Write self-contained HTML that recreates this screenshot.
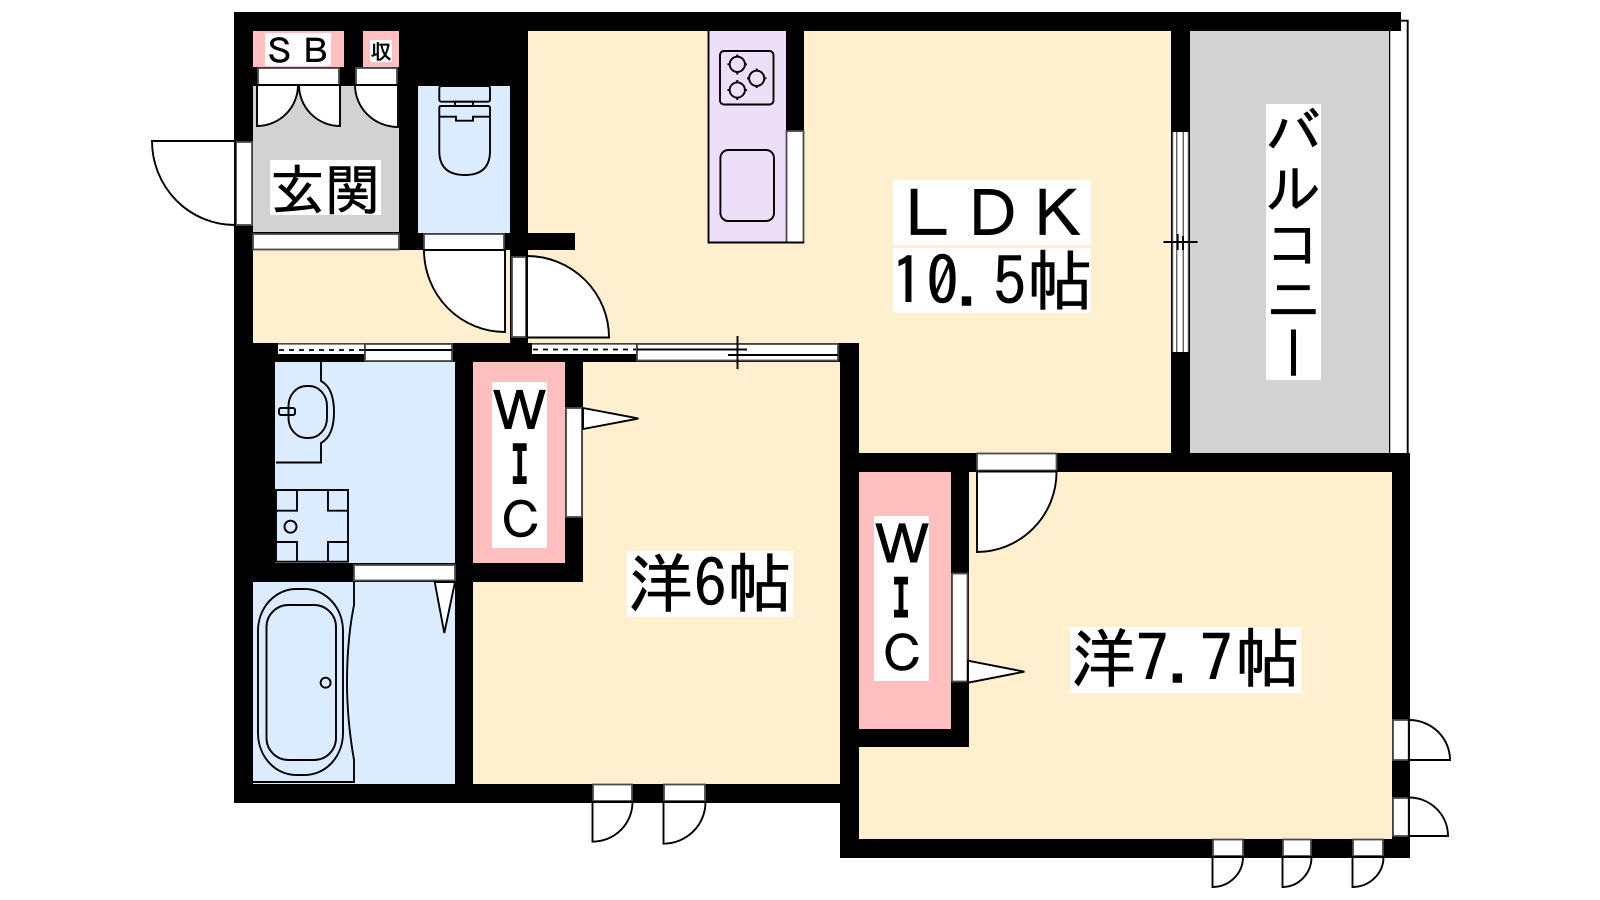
<!DOCTYPE html>
<html lang="ja"><head><meta charset="utf-8"><title>間取り図</title>
<style>
html,body{margin:0;padding:0;background:#fff}
svg{display:block}
text{font-family:"IPAGothic","Noto Sans CJK JP","Liberation Sans",sans-serif;fill:#000;stroke:#000;stroke-width:.6}
.f{fill:#fff;stroke:#4a4a4a;stroke-width:1.8}
.l{fill:none;stroke:#000;stroke-width:1.9}
.d{fill:#fff;stroke:#000;stroke-width:1.9}
</style></head><body>
<svg width="1600" height="900" viewBox="0 0 1600 900" xmlns="http://www.w3.org/2000/svg">
<rect width="1600" height="900" fill="#fff"/>
<!-- walls -->
<polygon fill="#000" points="234,12 1401,12 1401,31 1389,31 1389,453 1410,453 1410,858 840,858 840,803 234,803"/>
<!-- balcony window -->
<path class="l" d="M1401,20.7H1407.7V453M1389.3,31V453"/>
<!-- rooms -->
<polygon fill="#fef0cf" points="528,31 1171,31 1171,453 859,453 859,343 528,343"/>
<rect x="253" y="250" width="257" height="93" fill="#fef0cf"/>
<rect x="473" y="362" width="367" height="422" fill="#fef0cf"/>
<rect x="859" y="472" width="533" height="367" fill="#fef0cf"/>
<rect x="1190" y="31" width="199" height="422" fill="#d2d2d2"/>
<rect x="253" y="86" width="146" height="146" fill="#d2d2d2"/>
<rect x="418" y="86" width="92" height="147" fill="#dbecff"/>
<rect x="275" y="362" width="180" height="201" fill="#dbecff"/>
<rect x="253" y="582" width="202" height="202" fill="#dbecff"/>
<rect x="473" y="362" width="92" height="201" fill="#ffbfbf"/>
<rect x="859" y="472" width="92" height="257" fill="#ffbfbf"/>
<rect x="253" y="31" width="91" height="36" fill="#ffbfbf"/>
<rect x="363" y="31" width="36" height="36" fill="#ffbfbf"/>
<rect x="708.5" y="31" width="77.5" height="211.5" fill="#ecdff7"/>
<!-- interior black walls -->
<rect x="504" y="233" width="71" height="17" fill="#000"/>
<rect x="510" y="250" width="18" height="7" fill="#000"/>
<rect x="786" y="31" width="18" height="100" fill="#000"/>
<rect x="565" y="362" width="18" height="220" fill="#000"/>
<rect x="455" y="563" width="128" height="19" fill="#000"/>
<rect x="951" y="472" width="18" height="275" fill="#000"/>
<rect x="859" y="729" width="110" height="18" fill="#000"/>
<rect x="1171" y="31" width="19" height="422" fill="#000"/>
<rect x="253" y="563" width="101" height="19" fill="#000"/>

<!-- storage doors -->
<rect class="f" x="258" y="68" width="81" height="17"/>
<rect class="f" x="356" y="68" width="41" height="17"/>
<path class="d" d="M257,85V126A41,41 0 0 0 298,85Z"/>
<path class="d" d="M340,85V126A41,41 0 0 1 299,85Z"/>
<path class="d" d="M398,85V127A43,42 0 0 1 355,85Z"/>
<!-- entry door -->
<rect class="f" x="236" y="142" width="16" height="83"/>
<path class="d" d="M235,141H152A83,84 0 0 0 235,225Z"/>
<!-- entry step / toilet frame -->
<rect class="f" x="253" y="234" width="146" height="15.5"/>
<rect class="f" x="424" y="234" width="80" height="16"/>
<path class="d" d="M505,250V332A81,82 0 0 1 424,250Z"/>
<rect class="f" x="512" y="257" width="14" height="80"/>
<path class="d" d="M527,256V337.5H609A82,81.5 0 0 0 527,256Z"/>
<!-- toilet -->
<rect class="l" x="439.3" y="86" width="50.7" height="15.7" rx="2"/>
<rect class="l" x="455" y="101.7" width="18" height="4.3"/>
<path class="l" d="M439.3,108Q439.3,106 441,106H488Q490,106 490,108V151Q490,175 465,175Q439.3,175 439.3,151Z"/>
<path class="l" d="M439.3,116.7H456V120.7H473V116.7H490"/>

<!-- sliding windows -->
<rect x="278" y="343.5" width="86" height="18" fill="#fff"/>
<rect x="278" y="354" width="86" height="7.5" fill="#000"/>
<path d="M279,350H364" stroke="#000" stroke-width="1.8" stroke-dasharray="5 5" fill="none"/>
<path d="M278,344H364" stroke="#666" stroke-width="1.5"/>
<rect class="f" x="365" y="344" width="87" height="17"/>
<path class="l" d="M365,350H452"/>
<rect x="532" y="344" width="104" height="17.5" fill="#fff"/>
<rect x="532" y="354" width="104" height="7.5" fill="#000"/>
<path d="M533,349.5H636" stroke="#000" stroke-width="1.8" stroke-dasharray="5 5" fill="none"/>
<path d="M532,344H636" stroke="#555" stroke-width="1.5"/>
<rect class="f" x="637" y="344" width="201" height="16.5"/>
<path class="l" d="M637,349.5H747M728,355H838M737.5,336V369"/>

<!-- wash room -->
<path class="l" d="M321,362V381Q334,388 334,412Q334,436 321,443V462.5H276"/>
<rect class="l" x="288.5" y="386" width="38.5" height="52" rx="18" ry="20"/>
<rect class="l" x="279" y="408" width="16" height="7" rx="2" fill="#dbecff"/>
<path class="l" d="M276,490H348V561.7H276ZM276,510.7H297V490M348,510.7H328V490M276,542H297V561.7M348,542H328V561.7"/>
<circle class="l" cx="290.5" cy="526.7" r="6"/>
<rect class="f" x="354" y="565" width="101" height="15.5"/>
<polygon class="d" points="434.7,582 444.3,633 455,582"/>
<!-- bath -->
<path class="l" d="M253,782H354V760Q347,720 347,682Q347,640 354,605V582"/>
<rect class="l" x="258" y="589" width="85" height="186" rx="38" ry="42"/>
<rect class="l" x="266.5" y="605" width="69.5" height="155" rx="22" ry="22"/>
<circle class="l" cx="325.6" cy="682.7" r="5"/>

<!-- WIC 1 door -->
<rect class="f" x="566" y="408" width="16" height="109"/>
<polygon class="d" points="583,408 638.5,418.5 583,429"/>
<!-- kitchen -->
<rect class="f" x="786.5" y="131" width="17" height="111.5"/>
<path class="l" d="M708.5,31V242.5H804"/>
<rect class="l" x="720" y="51" width="53.5" height="53.5" rx="4"/>
<g class="l">
<circle cx="737.3" cy="64.3" r="7.6"/><path d="M737.3,54.5V57M737.3,72V74.5M727.5,64.3H730M744.6,64.3H747" />
<circle cx="756.7" cy="78.3" r="7.6"/><path d="M756.7,68.5V71M756.7,85.5V88M747,78.3H749.5M764,78.3H766.5"/>
<circle cx="737.3" cy="90" r="7.6"/><path d="M737.3,80V83M737.3,97V100M727.5,90H730M744.6,90H747"/>
</g>
<rect class="l" x="720.4" y="150" width="53.6" height="71" rx="8"/>
<!-- balcony window -->
<rect x="1172" y="132" width="17" height="220" fill="#fff"/>
<path d="M1172.7,132V352M1176.8,132V352M1183.2,132V352M1188.3,132V352" fill="none" stroke="#222" stroke-width="1"/>
<path class="l" d="M1163.5,242H1197.5M1177.7,234V250M1183,236V250"/>

<!-- Room 7.7 -->
<rect class="f" x="977" y="453.5" width="79.5" height="17"/>
<path class="d" d="M977,471.5V552A80,80 0 0 0 1056.5,471.5Z"/>
<rect class="f" x="952" y="573.5" width="15.5" height="108"/>
<polygon class="d" points="968,660.7 1024.4,671.7 968,682.7"/>
<!-- right doors -->
<rect class="f" x="1393" y="720" width="15.7" height="40"/>
<path class="d" d="M1409,720V760H1450A41,40 0 0 0 1409,720Z"/>
<rect class="f" x="1393" y="798" width="15.7" height="38"/>
<path class="d" d="M1409,797.5V836H1448A39,38.5 0 0 0 1409,797.5Z"/>
<!-- bottom doors -->
<rect class="f" x="593" y="784.5" width="39" height="16.5"/>
<path class="d" d="M592.5,802V841.7A40,39.7 0 0 0 632.5,802Z"/>
<rect class="f" x="664" y="784.5" width="41" height="16.5"/>
<path class="d" d="M663.5,802V843.7A42,41.7 0 0 0 705.5,802Z"/>
<rect class="f" x="1213" y="839.5" width="30" height="16.5"/>
<path class="d" d="M1212.5,857V887A30.5,30 0 0 0 1243,857Z"/>
<rect class="f" x="1283" y="839.5" width="28" height="16.5"/>
<path class="d" d="M1282.5,857V887A29,30 0 0 0 1311.5,857Z"/>
<rect class="f" x="1353" y="839.5" width="30" height="16.5"/>
<path class="d" d="M1352.5,857V887A31,30 0 0 0 1383.5,857Z"/>

<!-- labels -->
<rect x="265" y="33" width="66" height="33" fill="#fff"/>
<text x="262.5 298.5" y="63.5" font-size="34">ＳＢ</text>
<rect x="370" y="40" width="22" height="22" fill="#fff"/>
<text x="370.5" y="59" font-size="21">収</text>
<rect x="270" y="160" width="111" height="55" fill="#fff"/>
<text x="270" y="210" font-size="55">玄関</text>
<rect x="893" y="180" width="198" height="65" fill="#fff"/>
<text x="895" y="238" font-size="65">ＬＤＫ</text>
<rect x="893" y="248" width="198" height="65" fill="#fff"/>
<text x="891 926 956 993 1027" y="305" font-size="66">10.5帖</text>
<rect x="1266" y="104" width="55" height="276" fill="#fff"/>
<text x="1293.5" y="104" font-size="55.5" style="writing-mode:vertical-rl;text-orientation:upright">バルコニー</text>
<rect x="492" y="382" width="55" height="166" fill="#fff"/>
<text x="490.5" y="431.5" font-size="55" textLength="58" lengthAdjust="spacingAndGlyphs">Ｗ</text>
<text transform="translate(519.7,483.5) scale(.5,1)" text-anchor="middle" font-size="60" style="font-family:'Liberation Mono',monospace;font-weight:bold;stroke-width:1">I</text>
<text x="496" y="538.5" font-size="50">Ｃ</text>
<rect x="874" y="516" width="55" height="165" fill="#fff"/>
<text x="872.5" y="565" font-size="55" textLength="59" lengthAdjust="spacingAndGlyphs">Ｗ</text>
<text transform="translate(901,617) scale(.5,1)" text-anchor="middle" font-size="60" style="font-family:'Liberation Mono',monospace;font-weight:bold;stroke-width:1">I</text>
<text x="877.5" y="672" font-size="50">Ｃ</text>
<rect x="627" y="551" width="166" height="66" fill="#fff"/>
<text x="628 694 727" y="607" font-size="65">洋6帖</text>
<rect x="1070" y="627" width="231" height="66" fill="#fff"/>
<text x="1071 1136 1167 1200 1235" y="682" font-size="65">洋7.7帖</text>
</svg>
</body></html>
